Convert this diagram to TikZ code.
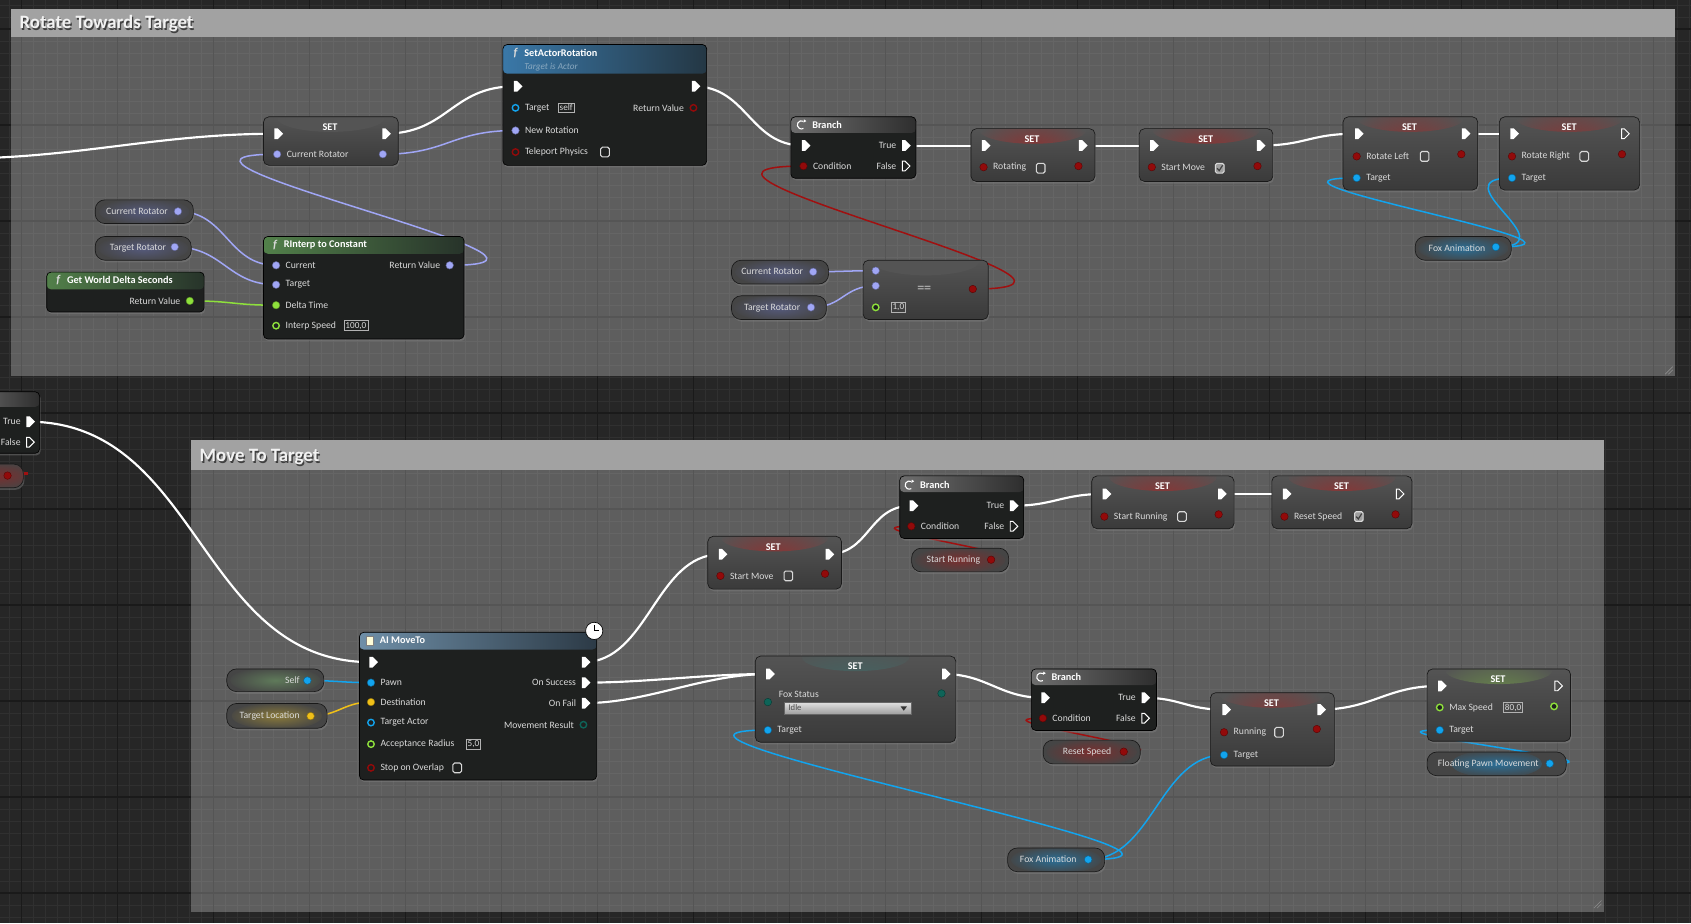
\documentclass[tikz,border=0pt]{standalone}
\usepackage{fontspec}
\setmainfont{Carlito}
\usetikzlibrary{shapes.symbols,shadows,calc}
\pgfdeclarelayer{bgl}\pgfdeclarelayer{wl}\pgfsetlayers{bgl,wl,main}
\definecolor{bgc}{HTML}{262626}
\definecolor{gminor}{HTML}{303030}
\definecolor{gmajor}{HTML}{1A1A1A}
\definecolor{ctitle}{HTML}{A2A2A2}
\definecolor{fbody}{HTML}{1E201F}
\definecolor{settop}{HTML}{545454}
\definecolor{setbot}{HTML}{3A3A3A}
\definecolor{pillc}{HTML}{454545}
\definecolor{rot}{HTML}{A0A6F5}
\definecolor{obj}{HTML}{12A4EE}
\definecolor{flt}{HTML}{8EE03C}
\definecolor{boo}{HTML}{920A0A}
\definecolor{boor}{HTML}{A01010}
\definecolor{vec}{HTML}{F0C018}
\definecolor{enm}{HTML}{0E6458}
\definecolor{lblc}{HTML}{DADADA}
\definecolor{subc}{HTML}{8AA9C0}
\definecolor{sarl}{HTML}{3A78A8}
\definecolor{sarr}{HTML}{243744}
\definecolor{grnl}{HTML}{52804A}
\definecolor{grnr}{HTML}{27332A}
\definecolor{brl}{HTML}{6E6E6E}
\definecolor{brr}{HTML}{2E2E2E}
\definecolor{ail}{HTML}{6F8FA8}
\definecolor{air}{HTML}{2C3A46}
\definecolor{glrot}{HTML}{555A7C}
\definecolor{glred}{HTML}{8A3434}
\definecolor{gpred}{HTML}{7A2E2E}
\definecolor{globj}{HTML}{2A6E96}
\definecolor{glteal}{HTML}{3E6866}
\definecolor{glgrn}{HTML}{6C8F4A}
\definecolor{glself}{HTML}{5F7A5A}
\definecolor{glvec}{HTML}{8A7A3A}
\tikzset{
  shd/.style={drop shadow={shadow xshift=1pt, shadow yshift=-2pt, opacity=0.45}},
  lbl/.style={font=\fontsize{9}{10}\selectfont, text=lblc, inner sep=0},
  lr/.style={lbl, xshift=5pt},
  ll/.style={lbl, xshift=-5pt},
  ttl/.style={font=\bfseries\fontsize{9.5}{10}\selectfont, text=white, inner sep=0},
  ficon/.style={font=\bfseries\itshape\fontsize{11}{11}\selectfont, text=white!85!black, inner sep=0},
  sub/.style={font=\itshape\fontsize{8.5}{9}\selectfont, text=subc, inner sep=0},
  ctext/.style={font=\bfseries\fontsize{17.5}{19}\selectfont, inner sep=0, anchor=west},
  dp/.style={circle, fill=#1, draw=#1!60!black, line width=0.4pt, inner sep=0, minimum size=7pt},
  dh/.style={circle, draw=#1, line width=1.3pt, fill=fbody, inner sep=0, minimum size=6pt},
  ep/.style={signal, signal to=east, fill=white, inner sep=0, minimum width=8pt, minimum height=10pt},
  eh/.style={signal, signal to=east, draw=white, line width=0.9pt, inner sep=0, minimum width=7pt, minimum height=9pt},
  vbox/.style={draw=white!70!black, line width=0.5pt, inner sep=1.4pt, font=\fontsize{8.5}{9}\selectfont, text=lblc},
  cbx/.style={draw=white!85!black, line width=1pt, rounded corners=1.5pt, minimum width=8pt, minimum height=9pt, inner sep=0},
  cbc/.style={cbx, fill=white!62!black},
  wexec/.style={draw=white, line width=2pt},
  wdat/.style={draw=#1, line width=1.4pt},
  fnode/.style n args={3}{draw=black, line width=0.6pt, rounded corners=4pt, inner sep=0, anchor=north west, fill=fbody, shd,
     path picture={\shade[left color=#1, right color=#2] (path picture bounding box.north west) rectangle ([yshift=-#3]path picture bounding box.north east);}},
  setnode/.style={draw=black!90, line width=0.6pt, rounded corners=5pt, inner sep=0, anchor=north west, top color=settop, bottom color=setbot, shd,
     path picture={\shade[inner color=#1, outer color=settop] ([yshift=-1pt]path picture bounding box.north) ellipse [x radius=50pt, y radius=13pt];}},
  pill/.style={draw=black!90, line width=0.6pt, rounded corners=9pt, inner sep=0, anchor=north west, fill=pillc, shd,
     path picture={\shade[inner color=#1, outer color=pillc] (path picture bounding box.center) ellipse [x radius=42pt, y radius=13pt];}},
  ddbox/.style={top color=white!88!black, bottom color=white!62!black, draw=black!60, line width=0.4pt, inner sep=0, anchor=north west},
  cmtbody/.style={fill=white, fill opacity=0.26, inner sep=0, anchor=north west},
  cmthead/.style={fill=ctitle, inner sep=0, anchor=north west},
}
\newcommand\exwire[3]{\begin{pgfonlayer}{wl}\draw[wexec] (#1.center) .. controls +(#3,0) and +(-#3,0) .. (#2.center);\end{pgfonlayer}}
\newcommand\dawire[4]{\begin{pgfonlayer}{wl}\draw[wdat=#1] (#2.center) .. controls +(#4,0) and +(-#4,0) .. (#3.center);\end{pgfonlayer}}
\newcommand\chk[1]{\draw[black!75, line width=1.1pt] ($(#1)+(-2.5,0)$) -- ++(2,2.2) -- ++(3.2,-5);}
\newcommand\bricon[2]{\draw[white, line width=1pt] (#1,#2) arc[start angle=-60, end angle=-300, radius=3.8]; \fill[white] ($(#1,#2)+(0.5,-1.8)$) -- ++(2.2,1.6) -- ++(-2.6,1.4) -- cycle;}
\begin{document}
\begin{tikzpicture}[x=1pt,y=-1pt]
\useasboundingbox (0,0) rectangle (1568,856);
\begin{pgfonlayer}{bgl}
\fill[bgc] (0,0) rectangle (1568,856);
\foreach \i in {-2,...,139} \draw[gminor, line width=0.6pt] ({20+\i*11.125},0) -- ({20+\i*11.125},856);
\foreach \i in {-3,...,75} \draw[gminor, line width=0.6pt] (0,{27+\i*11.125}) -- (1568,{27+\i*11.125});
\foreach \i in {0,...,17} \draw[gmajor, line width=1.2pt] ({20+\i*89},0) -- ({20+\i*89},856);
\foreach \i in {0,...,9} \draw[gmajor, line width=1.2pt] (0,{27+\i*89}) -- (1568,{27+\i*89});
% comments
\node[cmtbody, minimum width=1543, minimum height=314] (c1b) at (10,34) {};
\node[cmthead, minimum width=1543, minimum height=26] (c1h) at (10,8) {};
\node[ctext, text=black, opacity=0.6] (c1s) at (19.2,23.2) {Rotate Towards Target};
\node[ctext, text=white!95!black] (c1t) at (18,22) {Rotate Towards Target};
\node[cmtbody, minimum width=1310, minimum height=409] (c2b) at (177,436) {};
\node[cmthead, minimum width=1310, minimum height=28] (c2h) at (177,408) {};
\node[ctext, text=black, opacity=0.6] (c2s) at (186.2,425.2) {Move To Target};
\node[ctext, text=white!95!black] (c2t) at (185,424) {Move To Target};
\draw[white!55!black, line width=0.6pt] (1551,340) -- (1544,347) (1551,343) -- (1547,347);
\draw[white!55!black, line width=0.6pt] (1485,835) -- (1478,842) (1485,838) -- (1481,842);
\end{pgfonlayer}

% ================= TOP =================
% SET Current Rotator
\node[setnode=settop, minimum width=125, minimum height=45] (setcr) at (244,108) {};
\node[ttl] (setcr-t) at (306,118) {SET};
\node[ep] (setcr-i) at (256,124) {};
\node[ep] (setcr-o) at (356,124) {};
\node[dp=rot, label={[lr]0:Current Rotator}] (setcr-vi) at (257,143) {};
\node[dp=rot] (setcr-vo) at (355,143) {};
% SetActorRotation
\node[fnode={sarl}{sarr}{27pt}, minimum width=189, minimum height=112] (sar) at (466,41) {};
\node[ficon] (sar-f) at (478,49) {f};
\node[ttl, anchor=west] (sar-t) at (486,49) {SetActorRotation};
\node[sub, anchor=west] (sar-s) at (486,62) {Target is Actor};
\node[ep] (sar-i) at (478,80) {};
\node[ep] (sar-o) at (643,80) {};
\node[dh=obj, label={[lr]0:Target}] (sar-tg) at (478,100) {};
\node[vbox] (sar-self) at (525,100) {self};
\node[dp=rot, label={[lr]0:New Rotation}] (sar-nr) at (478,121) {};
\node[dh=boo, label={[lr]0:Teleport Physics}] (sar-tp) at (478,141) {};
\node[cbx] (sar-cb) at (561,141) {};
\node[dh=boo, label={[ll]180:Return Value}] (sar-rv) at (643,100) {};
% Get World Delta Seconds
\node[fnode={grnl}{grnr}{16pt}, minimum width=146, minimum height=37] (gw) at (43,252) {};
\node[ficon] (gw-f) at (54,260) {f};
\node[ttl, anchor=west] (gw-t) at (62,260) {Get World Delta Seconds};
\node[dp=flt, label={[ll]180:Return Value}] (gw-rv) at (176,279) {};
% RInterp to Constant
\node[fnode={grnl}{grnr}{16pt}, minimum width=186, minimum height=95] (ri) at (244,219) {};
\node[ficon] (ri-f) at (255,227) {f};
\node[ttl, anchor=west] (ri-t) at (263,227) {RInterp to Constant};
\node[dp=rot, label={[lr]0:Current}] (ri-cu) at (256,246) {};
\node[dp=rot, label={[lr]0:Target}] (ri-tg) at (256,264) {};
\node[dp=flt, label={[lr]0:Delta Time}] (ri-dt) at (256,283) {};
\node[dh=flt, label={[lr]0:Interp Speed}] (ri-is) at (256,302) {};
\node[vbox] (ri-isv) at (330,302) {100,0};
\node[dp=rot, label={[ll]180:Return Value}] (ri-rv) at (417,246) {};
% getters
\node[pill=glrot, minimum width=91, minimum height=22] (cr1) at (88,185) {};
\node[lbl] (cr1-l) at (127,196) {Current Rotator};
\node[dp=rot] (cr1-o) at (165,196) {};
\node[pill=glrot, minimum width=89, minimum height=22] (tr1) at (88,219) {};
\node[lbl] (tr1-l) at (128,230) {Target Rotator};
\node[dp=rot] (tr1-o) at (162,229) {};
% Branch 1
\node[fnode={brl}{brr}{15pt}, minimum width=116, minimum height=57] (br1) at (733,108) {};
\bricon{745}{112.5}
\node[ttl, anchor=west] (br1-l) at (753,116) {Branch};
\node[ep] (br1-i) at (745,135) {};
\node[ep, label={[ll]180:True}] (br1-t) at (838,135) {};
\node[dp=boo, label={[lr]0:Condition}] (br1-c) at (745,154) {};
\node[eh, label={[ll]180:False}] (br1-f) at (838,154) {};
% SET Rotating
\node[setnode=glred, minimum width=115, minimum height=49] (srot) at (900,119) {};
\node[ttl] (srot-t) at (957,129) {SET};
\node[ep] (srot-i) at (912,135) {};
\node[ep] (srot-o) at (1002,135) {};
\node[dp=boo, label={[lr]0:Rotating}] (srot-v) at (912,155) {};
\node[cbx] (srot-cb) at (965,156) {};
\node[dp=boo] (srot-vo) at (1000,154) {};
% SET Start Move (top)
\node[setnode=glred, minimum width=124, minimum height=49] (ssm1) at (1056,119) {};
\node[ttl] (ssm1-t) at (1118,129) {SET};
\node[ep] (ssm1-i) at (1068,135) {};
\node[ep] (ssm1-o) at (1167,135) {};
\node[dp=boo, label={[lr]0:Start Move}] (ssm1-v) at (1068,155) {};
\node[cbc] (ssm1-cb) at (1131,156) {};
\chk{ssm1-cb}
\node[dp=boo] (ssm1-vo) at (1166,154) {};
% SET Rotate Left
\node[setnode=glred, minimum width=125, minimum height=68] (srl) at (1245,108) {};
\node[ttl] (srl-t) at (1307,118) {SET};
\node[ep] (srl-i) at (1258,124) {};
\node[ep] (srl-o) at (1357,124) {};
\node[dp=boo, label={[lr]0:Rotate Left}] (srl-v) at (1258,145) {};
\node[cbx] (srl-cb) at (1321,145) {};
\node[dp=boo] (srl-vo) at (1355,143) {};
\node[dp=obj, label={[lr]0:Target}] (srl-tg) at (1258,165) {};
% SET Rotate Right
\node[setnode=glred, minimum width=130, minimum height=68] (srr) at (1390,108) {};
\node[ttl] (srr-t) at (1455,118) {SET};
\node[ep] (srr-i) at (1402,124) {};
\node[eh] (srr-o) at (1505,124) {};
\node[dp=boo, label={[lr]0:Rotate Right}] (srr-v) at (1402,145) {};
\node[cbx] (srr-cb) at (1469,145) {};
\node[dp=boo] (srr-vo) at (1504,143) {};
\node[dp=obj, label={[lr]0:Target}] (srr-tg) at (1402,165) {};
% Fox Animation (top)
\node[pill=globj, minimum width=89, minimum height=22] (fa1) at (1312,219) {};
\node[lbl] (fa1-l) at (1351,230) {Fox Animation};
\node[dp=obj] (fa1-o) at (1387,229) {};
% getters 2
\node[pill=glrot, minimum width=90, minimum height=22] (cr2) at (678,241) {};
\node[lbl] (cr2-l) at (716,252) {Current Rotator};
\node[dp=rot] (cr2-o) at (754,252) {};
\node[pill=glrot, minimum width=88, minimum height=22] (tr2) at (678,274) {};
\node[lbl] (tr2-l) at (716,286) {Target Rotator};
\node[dp=rot] (tr2-o) at (752,285) {};
% == node
\node[setnode=settop, minimum width=116, minimum height=55] (eq) at (800,241) {};
\node[dp=rot] (eq-a) at (812,251) {};
\node[dp=rot] (eq-b) at (812,265) {};
\node[dh=flt] (eq-e) at (812,285) {};
\node[vbox] (eq-ev) at (833,285) {1,0};
\node[font=\bfseries\fontsize{13}{13}\selectfont, text=white!65!black, inner sep=0] (eq-l) at (857,268) {==};
\node[dp=boo] (eq-o) at (902,268) {};

% top wires
\coordinate (lst) at (-40,147);
\exwire{lst}{setcr-i}{110}
\exwire{setcr-o}{sar-i}{60}
\dawire{rot}{setcr-vo}{sar-nr}{60}
\dawire{rot}{ri-rv}{setcr-vi}{165}
\dawire{rot}{cr1-o}{ri-cu}{45}
\dawire{rot}{tr1-o}{ri-tg}{45}
\dawire{flt}{gw-rv}{ri-dt}{40}
\exwire{sar-o}{br1-i}{50}
\exwire{br1-t}{srot-i}{30}
\exwire{srot-o}{ssm1-i}{30}
\exwire{ssm1-o}{srl-i}{45}
\exwire{srl-o}{srr-i}{20}
\dawire{boor}{eq-o}{br1-c}{180}
\dawire{rot}{cr2-o}{eq-a}{25}
\dawire{rot}{tr2-o}{eq-b}{30}
\dawire{obj}{fa1-o}{srl-tg}{130}
\dawire{obj}{fa1-o}{srr-tg}{70}

% ================= BOTTOM =================
% partial branch at left edge
\node[fnode={brl}{brr}{14pt}, minimum width=70, minimum height=57, anchor=north east] (lbr) at (37,363) {};
\node[ep, label={[ll]180:True}] (lbr-t) at (26,391) {};
\node[eh, label={[ll]180:False}] (lbr-f) at (26,410) {};
\node[pill=gpred, minimum width=50, minimum height=22, anchor=north east] (lrp) at (22,430) {};
\node[dp=boo] (lrp-o) at (7,441) {};
\coordinate (lrp-e) at (24,439);
\begin{pgfonlayer}{wl}\draw[wdat=boor] (lrp-o.center) -- (lrp-e);\end{pgfonlayer}
\fill[boor] ($(lrp-e)+(-1.5,-1.5)$) rectangle ($(lrp-e)+(1.5,1.5)$);
% AI MoveTo
\node[fnode={ail}{air}{16pt}, minimum width=220, minimum height=137] (ai) at (333,586) {};
\node[draw=black!50, fill=white!85!yellow, minimum width=7pt, minimum height=8pt, inner sep=0] (ai-ic) at (343,594) {};
\node[ttl, anchor=west] (ai-t) at (352,594) {AI MoveTo};
\node[circle, draw=black, line width=0.6pt, fill=white, minimum size=16pt, inner sep=0] (ai-clk) at (551,585) {};
\draw[black, line width=0.9pt] (551,579.5) -- (ai-clk.center) -- (555,585);
\node[ep] (ai-i) at (344,614) {};
\node[ep] (ai-o) at (541,614) {};
\node[dp=obj, label={[lr]0:Pawn}] (ai-pw) at (344,633) {};
\node[dp=vec, label={[lr]0:Destination}] (ai-ds) at (344,651) {};
\node[dh=obj, label={[lr]0:Target Actor}] (ai-ta) at (344,670) {};
\node[dh=flt, label={[lr]0:Acceptance Radius}] (ai-ar) at (344,690) {};
\node[vbox] (ai-arv) at (439,690) {5,0};
\node[dh=boo, label={[lr]0:Stop on Overlap}] (ai-so) at (344,712) {};
\node[cbx] (ai-cb) at (424,712) {};
\node[ep, label={[ll]180:On Success}] (ai-os) at (541,633) {};
\node[ep, label={[ll]180:On Fail}] (ai-of) at (541,652) {};
\node[dh=enm, label={[ll]180:Movement Result}] (ai-mr) at (541,672) {};
% Self / Target Location
\node[pill=glself, minimum width=90, minimum height=21] (self) at (210,620) {};
\node[lbl, anchor=east] (self-l) at (278,631) {Self};
\node[dp=obj] (self-o) at (285,631) {};
\node[pill=glvec, minimum width=93, minimum height=23] (tl) at (210,652) {};
\node[lbl] (tl-l) at (250,664) {Target Location};
\node[dp=vec] (tl-o) at (288,664) {};
% SET Start Move (bottom)
\node[setnode=glred, minimum width=124, minimum height=49] (ssm2) at (656,497) {};
\node[ttl] (ssm2-t) at (717,507) {SET};
\node[ep] (ssm2-i) at (668,514) {};
\node[ep] (ssm2-o) at (767,514) {};
\node[dp=boo, label={[lr]0:Start Move}] (ssm2-v) at (668,534) {};
\node[cbx] (ssm2-cb) at (731,534) {};
\node[dp=boo] (ssm2-vo) at (765,532) {};
% Branch 2
\node[fnode={brl}{brr}{15pt}, minimum width=115, minimum height=58] (br2) at (834,441) {};
\bricon{845}{446.5}
\node[ttl, anchor=west] (br2-l) at (853,450) {Branch};
\node[ep] (br2-i) at (845,469) {};
\node[ep, label={[ll]180:True}] (br2-t) at (938,469) {};
\node[dp=boo, label={[lr]0:Condition}] (br2-c) at (845,488) {};
\node[eh, label={[ll]180:False}] (br2-f) at (938,488) {};
\node[pill=gpred, minimum width=90, minimum height=22] (srp) at (845,508) {};
\node[lbl] (srp-l) at (884,519) {Start Running};
\node[dp=boo] (srp-o) at (919,519) {};
% SET Start Running
\node[setnode=glred, minimum width=132, minimum height=49] (ssr) at (1012,441) {};
\node[ttl] (ssr-t) at (1078,451) {SET};
\node[ep] (ssr-i) at (1024,458) {};
\node[ep] (ssr-o) at (1131,458) {};
\node[dp=boo, label={[lr]0:Start Running}] (ssr-v) at (1024,479) {};
\node[cbx] (ssr-cb) at (1096,479) {};
\node[dp=boo] (ssr-vo) at (1130,477) {};
% SET Reset Speed
\node[setnode=glred, minimum width=130, minimum height=49] (srs) at (1179,441) {};
\node[ttl] (srs-t) at (1244,451) {SET};
\node[ep] (srs-i) at (1191,458) {};
\node[eh] (srs-o) at (1296,458) {};
\node[dp=boo, label={[lr]0:Reset Speed}] (srs-v) at (1191,479) {};
\node[cbc] (srs-cb) at (1260,479) {};
\chk{srs-cb}
\node[dp=boo] (srs-vo) at (1294,477) {};
% SET Fox Status
\node[setnode=glteal, minimum width=186, minimum height=80] (sfs) at (700,608) {};
\node[ttl] (sfs-t) at (793,618) {SET};
\node[ep] (sfs-i) at (712,625) {};
\node[ep] (sfs-o) at (875,625) {};
\node[lbl, anchor=west] (sfs-l) at (722,644) {Fox Status};
\node[dp=enm] (sfs-e) at (712,651) {};
\node[ddbox, minimum width=118pt, minimum height=11pt] (sfs-dd) at (727,651) {};
\node[font=\fontsize{8}{9}\selectfont, text=black!70, anchor=west, inner sep=0] (sfs-ddl) at (731,656.5) {Idle};
\fill[black!80] (835,655) -- (841,655) -- (838,659) -- cycle;
\node[dp=enm] (sfs-eo) at (873,643) {};
\node[dp=obj, label={[lr]0:Target}] (sfs-tg) at (712,677) {};
% Branch 3
\node[fnode={brl}{brr}{15pt}, minimum width=116, minimum height=57] (br3) at (956,620) {};
\bricon{967}{624.5}
\node[ttl, anchor=west] (br3-l) at (975,628) {Branch};
\node[ep] (br3-i) at (967,647) {};
\node[ep, label={[ll]180:True}] (br3-t) at (1060,647) {};
\node[dp=boo, label={[lr]0:Condition}] (br3-c) at (967,666) {};
\node[eh, label={[ll]180:False}] (br3-f) at (1060,666) {};
\node[pill=gpred, minimum width=90, minimum height=22] (rsp) at (967,686) {};
\node[lbl] (rsp-l) at (1008,697) {Reset Speed};
\node[dp=boo] (rsp-o) at (1042,697) {};
% SET Running
\node[setnode=glred, minimum width=115, minimum height=68] (srun) at (1122,642) {};
\node[ttl] (srun-t) at (1179,652) {SET};
\node[ep] (srun-i) at (1135,658) {};
\node[ep] (srun-o) at (1223,658) {};
\node[dp=boo, label={[lr]0:Running}] (srun-v) at (1135,679) {};
\node[cbx] (srun-cb) at (1186,679) {};
\node[dp=boo] (srun-vo) at (1221,676) {};
\node[dp=obj, label={[lr]0:Target}] (srun-tg) at (1135,700) {};
% SET Max Speed
\node[setnode=glgrn, minimum width=133, minimum height=67] (sms) at (1323,620) {};
\node[ttl] (sms-t) at (1389,630) {SET};
\node[ep] (sms-i) at (1335,636) {};
\node[eh] (sms-o) at (1443,636) {};
\node[dh=flt, label={[lr]0:Max Speed}] (sms-v) at (1335,656) {};
\node[vbox] (sms-vv) at (1403,656) {80,0};
\node[dh=flt] (sms-vo) at (1441,655) {};
\node[dp=obj, label={[lr]0:Target}] (sms-tg) at (1335,677) {};
% getters
\node[pill=globj, minimum width=129, minimum height=22] (fpm) at (1323,697) {};
\node[lbl] (fpm-l) at (1380,708) {Floating Pawn Movement};
\node[dp=obj] (fpm-o) at (1437,708) {};
\node[pill=globj, minimum width=90, minimum height=22] (fa2) at (934,786) {};
\node[lbl] (fa2-l) at (972,797) {Fox Animation};
\node[dp=obj] (fa2-o) at (1009,797) {};

% bottom wires
\exwire{lbr-t}{ai-i}{160}
\exwire{ai-o}{ssm2-i}{60}
\exwire{ssm2-o}{br2-i}{40}
\exwire{br2-t}{ssr-i}{40}
\exwire{ssr-o}{srs-i}{25}
\dawire{boor}{srp-o}{br2-c}{75}
\exwire{ai-os}{sfs-i}{60}
\exwire{ai-of}{sfs-i}{60}
\exwire{sfs-o}{br3-i}{40}
\exwire{br3-t}{srun-i}{35}
\exwire{srun-o}{sms-i}{50}
\dawire{boor}{rsp-o}{br3-c}{75}
\dawire{obj}{self-o}{ai-pw}{25}
\dawire{vec}{tl-o}{ai-ds}{25}
\dawire{obj}{fa2-o}{sfs-tg}{180}
\dawire{obj}{fa2-o}{srun-tg}{60}
\dawire{obj}{fpm-o}{sms-tg}{90}
\end{tikzpicture}
\end{document}
